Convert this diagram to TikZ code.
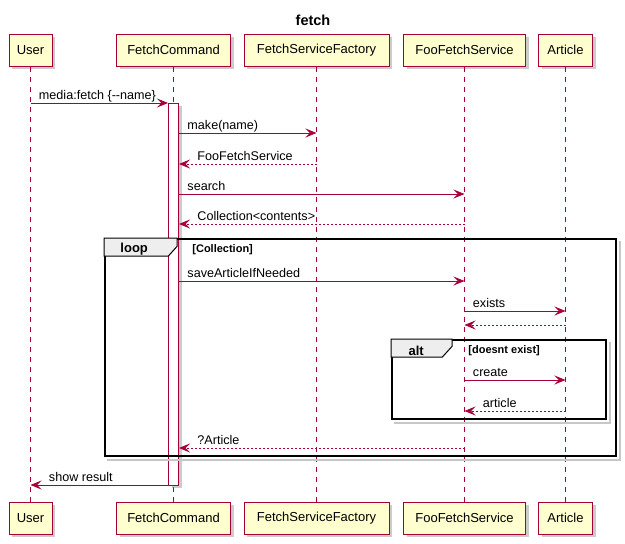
\documentclass[tikz,border=0pt]{standalone}
\usepackage{fontspec}
\setmainfont{Liberation Sans}
\usetikzlibrary{arrows.meta, shadows}
\definecolor{umlred}{HTML}{A80036}
\definecolor{umlyellow}{HTML}{FEFECE}
\definecolor{tabgray}{HTML}{EEEEEE}
\tikzset{
party/.style={draw=umlred, fill=umlyellow, line width=1pt, minimum height=32pt, inner sep=0pt,
  font=\fontsize{13}{15}\selectfont, drop shadow={shadow xshift=3pt, shadow yshift=-3pt, opacity=0.4}}, % participant boxes
lifeline/.style={draw=umlred, line width=0.8pt, dash pattern=on 5pt off 5pt},
activation/.style={draw=umlred, fill=white, line width=1pt, minimum width=10pt, inner sep=0pt,
  drop shadow={shadow xshift=3pt, shadow yshift=-3pt, opacity=0.4}},
msg/.style={draw=umlred, line width=0.9pt, -{Stealth[length=11pt, width=9pt, inset=4.5pt]}},
ret/.style={msg, dash pattern=on 2pt off 2pt},
lbl/.style={anchor=base west, inner sep=0pt, yshift=4pt, font=\fontsize{12.6}{15}\selectfont, text=black},
frame/.style={draw=black, line width=1.6pt, inner sep=0pt},
fshadow/.style={draw=black!22, line width=2pt},
tab/.style={draw=black, fill=tabgray, line width=1pt},
tabtext/.style={inner sep=0pt, font=\bfseries\fontsize{13}{15}\selectfont},
guard/.style={anchor=west, inner sep=0pt, font=\bfseries\fontsize{11}{13}\selectfont},
}

\begin{document}
\begin{tikzpicture}[x=1pt, y=-1pt]
\useasboundingbox[fill=white] (0,0) rectangle (625,544);
\node[font=\bfseries\fontsize{14.5}{17}\selectfont] at (313,20) (title) {fetch};

% participants, top and bottom
\node[party, minimum width=43pt] at (30.5,50) (userTop) {User};
\node[party, minimum width=114pt] at (173.5,50) (cmdTop) {FetchCommand};
\node[party, minimum width=145pt] at (316.5,50) (factoryTop) {FetchServiceFactory};
\node[party, minimum width=122pt] at (464.5,50) (fooTop) {FooFetchService};
\node[party, minimum width=54pt] at (565.5,50) (articleTop) {Article};
\node[party, minimum width=43pt] at (30.5,518) (userBot) {User};
\node[party, minimum width=114pt] at (173.5,518) (cmdBot) {FetchCommand};
\node[party, minimum width=145pt] at (316.5,518) (factoryBot) {FetchServiceFactory};
\node[party, minimum width=122pt] at (464.5,518) (fooBot) {FooFetchService};
\node[party, minimum width=54pt] at (565.5,518) (articleBot) {Article};

\foreach \p in {user, cmd, factory, foo, article}
  \draw[lifeline] (\p Top) -- (\p Bot);

\node[activation, minimum height=382pt] at (173.5,294) (act) {};

% message rows
\foreach \n/\y in {1/103, 2/133, 3/164, 4/194, 5/224, 6/281, 7/311, 8/325, 9/380, 10/411, 11/448, 12/485}
  \coordinate (r\n) at (0,\y);

% loop frame
\node[frame, minimum width=511pt, minimum height=217pt] at (360.5,347.5) (loop) {};
\draw[fshadow] ([shift={(3,3)}]loop.north east) |- ([shift={(3,3)}]loop.south west);
\draw[tab] (loop.north west) -- ++(73,0) -- ++(0,8) -- ++(-9,10) -- ++(-64,0) -- cycle;
\node[tabtext] at ([shift={(30,11)}]loop.north west) (loopLbl) {loop};
\node[guard] at ([shift={(88,11)}]loop.north west) (loopGuard) {[Collection]};

% alt frame
\node[frame, minimum width=214pt, minimum height=79pt] at (499,379.5) (alt) {};
\draw[fshadow] ([shift={(3,3)}]alt.north east) |- ([shift={(3,3)}]alt.south west);
\draw[tab] (alt.north west) -- ++(61,0) -- ++(0,7) -- ++(-10,11) -- ++(-51,0) -- cycle;
\node[tabtext] at ([shift={(25,12)}]alt.north west) (altLbl) {alt};
\node[guard] at ([shift={(77,11)}]alt.north west) (altGuard) {[doesnt exist]};

% messages
\draw[msg] (userTop |- r1) -- node[lbl, at start, xshift=8pt] {media:fetch \{-\kern0pt-name\}} (act.west |- r1);
\draw[msg] (act.east |- r2) -- node[lbl, at start, xshift=8pt] {make(name)} (factoryTop |- r2);
\draw[ret] (factoryTop |- r3) -- node[lbl, at end, xshift=18pt] {FooFetchService} (act.east |- r3);
\draw[msg] (act.east |- r4) -- node[lbl, at start, xshift=8pt] {search} (fooTop |- r4);
\draw[ret] (fooTop |- r5) -- node[lbl, at end, xshift=18pt] {Collection<contents>} (act.east |- r5);
\draw[msg] (act.east |- r6) -- node[lbl, at start, xshift=8pt] {saveArticleIfNeeded} (fooTop |- r6);
\draw[msg] (fooTop |- r7) -- node[lbl, at start, xshift=8pt] {exists} (articleTop |- r7);
\draw[ret] (articleTop |- r8) -- (fooTop |- r8);
\draw[msg] (fooTop |- r9) -- node[lbl, at start, xshift=8pt] {create} (articleTop |- r9);
\draw[ret] (articleTop |- r10) -- node[lbl, at end, xshift=18pt] {article} (fooTop |- r10);
\draw[ret] (fooTop |- r11) -- node[lbl, at end, xshift=18pt] {?Article} (act.east |- r11);
\draw[msg] (act.west |- r12) -- node[lbl, at end, xshift=18pt] {show result} (userTop |- r12);

\end{tikzpicture}
\end{document}
